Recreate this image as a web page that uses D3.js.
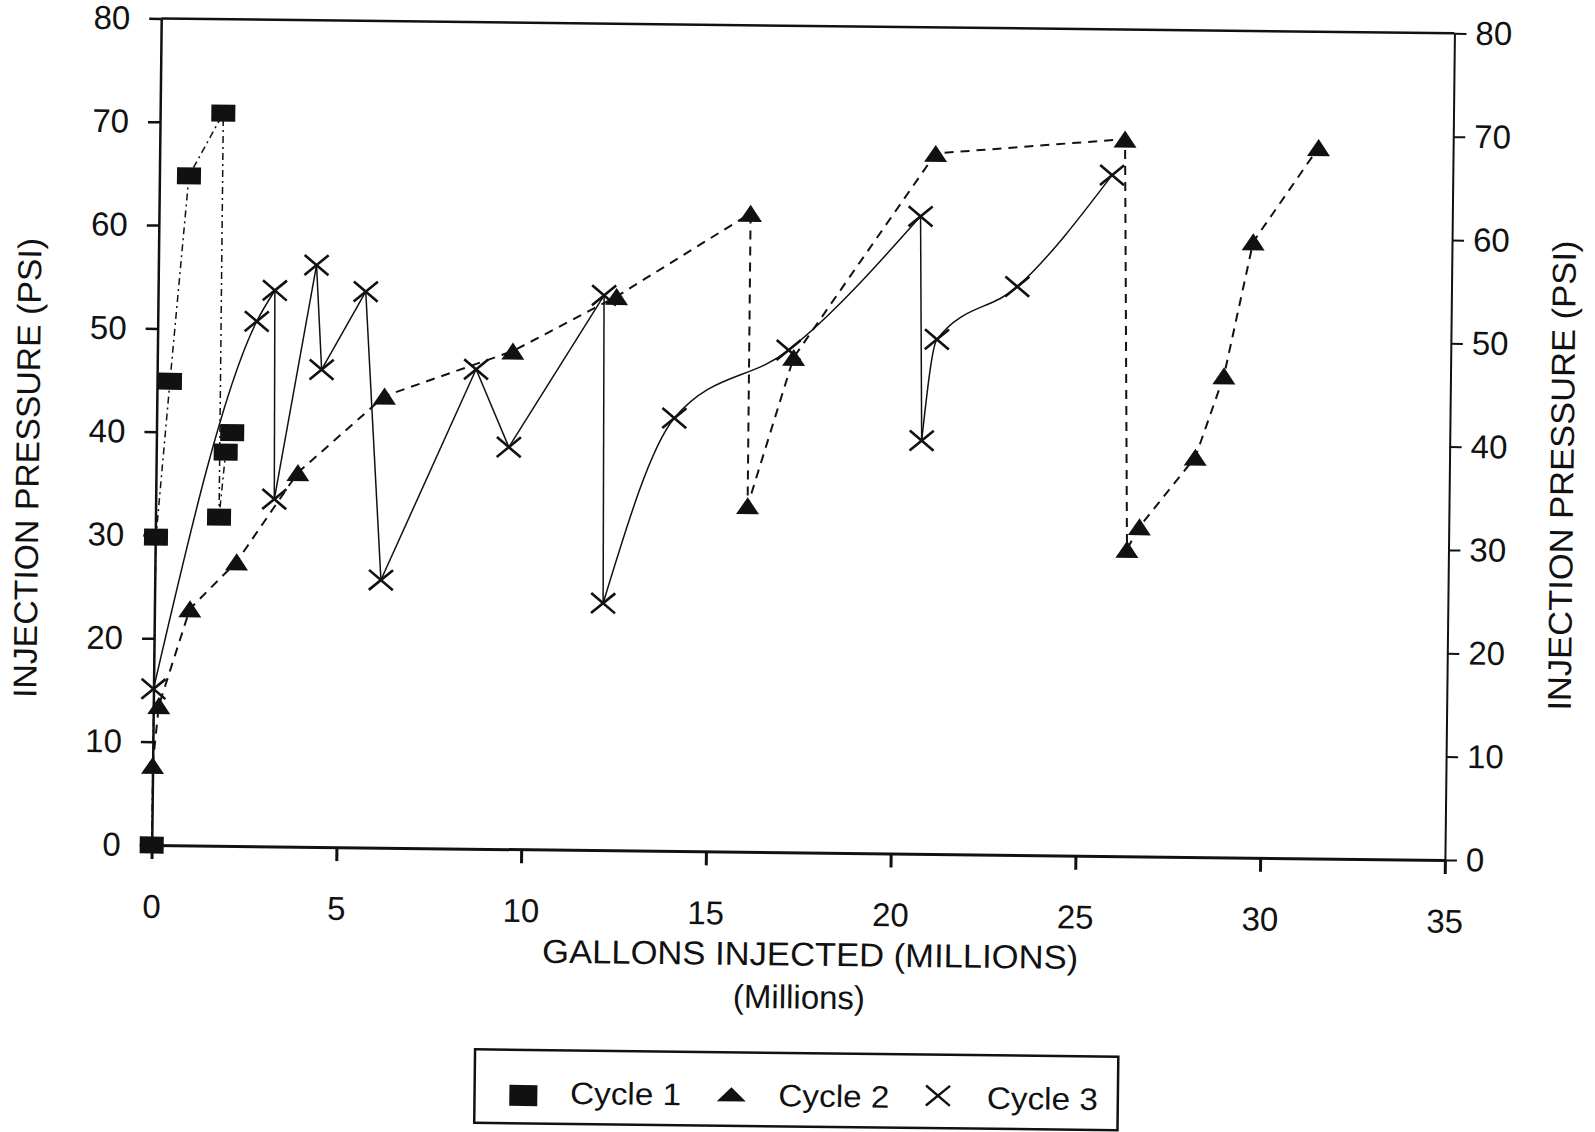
<!DOCTYPE html>
<meta charset="utf-8">

<!--load d3.js-->
<script src="https://d3js.org/d3.v7.min.js"></script>

<style>
    body { margin: 0; background: #fff; }
    text { font-family: "Liberation Sans", Arial, Helvetica, sans-serif; fill: #111; }
</style>

<div id="chart"></div>

<script>
    // values (gallons in millions, pressure in psi)
    const cycle1Gallons = [0, 0.02, 0.35, 0.8, 1.71, 1.72, 1.88, 2.05];
    const cycle1Psi = [0, 29.8, 44.9, 64.8, 70.9, 31.8, 38.1, 40.0];

    const cycle2Gallons = [0, 0.15, 0.96, 2.21, 3.84, 6.16, 9.62, 12.41, 16.01, 16.02, 17.22, 21.0, 26.12, 26.3, 26.63, 28.12, 28.87, 29.62, 31.36];
    const cycle2Psi = [7.7, 13.5, 22.9, 27.5, 36.2, 43.7, 48.2, 53.6, 61.8, 33.5, 47.9, 67.8, 69.4, 29.7, 31.9, 38.7, 46.6, 59.6, 68.8];

    const cycle3Gallons = [0, 2.68, 3.16, 3.21, 4.28, 4.45, 5.62, 6.12, 8.63, 9.54, 12.07, 12.14, 14.01, 17.08, 20.61, 20.71, 21.09, 23.25, 25.78];
    const cycle3Psi = [15.1, 50.8, 53.8, 33.6, 56.3, 46.2, 53.8, 25.9, 46.4, 38.9, 53.7, 23.9, 41.9, 48.6, 61.7, 40.0, 49.8, 55.0, 65.9];

    const xTicks = [0, 5, 10, 15, 20, 25, 30, 35];
    const yTicks = [0, 10, 20, 30, 40, 50, 60, 70, 80];
    const seriesNames = ["Cycle 1", "Cycle 2", "Cycle 3"];

    // the page was scanned slightly crooked
    const tilt = 0.66;

    const margin = { top: 18.4, left: 151.7 },
        width = 1293.3,
        height = 826.6;

    const svg = d3.select("#chart")
        .append("svg")
        .attr("width", 1595)
        .attr("height", 1132);

    const g = svg.append("g")
        .attr("transform", `rotate(${tilt}, ${margin.left}, ${margin.top + height})`)
        .append("g")
        .attr("transform", `translate(${margin.left}, ${margin.top})`);

    // scales
    const x = d3.scaleLinear().domain([0, 35]).range([0, width]);
    const y = d3.scaleLinear().domain([0, 80]).range([height, 0]);

    const font = '"Liberation Sans", Arial, Helvetica, sans-serif';

    function styleAxis(sel, sw) {
        sel.attr("font-size", 33).attr("font-family", font);
        sel.select(".domain").attr("stroke", "#111").attr("stroke-width", sw);
        sel.selectAll(".tick line").attr("stroke", "#111").attr("stroke-width", sw);
        sel.selectAll(".tick text").attr("fill", "#111");
    }

    // left axis
    g.append("g")
        .call(d3.axisLeft(y).tickValues(yTicks).tickSize(12).tickSizeOuter(0).tickPadding(19))
        .call(s => styleAxis(s, 2.5));

    // right axis
    g.append("g")
        .attr("transform", `translate(${width}, 0)`)
        .call(d3.axisRight(y).tickValues(yTicks).tickSize(12).tickSizeOuter(0).tickPadding(9))
        .call(s => styleAxis(s, 2));

    // bottom axis
    g.append("g")
        .attr("transform", `translate(0, ${height})`)
        .call(d3.axisBottom(x).tickValues(xTicks).tickSize(14).tickSizeOuter(0))
        .call(s => styleAxis(s, 3))
        .selectAll(".tick text")
        .attr("y", 72.8)
        .attr("dy", 0);

    // top border
    g.append("line")
        .attr("x1", 0).attr("x2", width)
        .attr("y1", 0).attr("y2", 0)
        .attr("stroke", "#111")
        .attr("stroke-width", 2.5);

    // axis titles
    g.append("text")
        .attr("transform", `translate(-117.2, ${451}) rotate(-90)`)
        .attr("text-anchor", "middle")
        .attr("font-size", 33)
        .attr("textLength", 460)
        .attr("lengthAdjust", "spacingAndGlyphs")
        .text("INJECTION PRESSURE (PSI)");

    g.append("text")
        .attr("transform", `translate(${width + 124}, ${441}) rotate(-90)`)
        .attr("text-anchor", "middle")
        .attr("font-size", 33)
        .attr("textLength", 470)
        .attr("lengthAdjust", "spacingAndGlyphs")
        .text("INJECTION PRESSURE (PSI)");

    g.append("text")
        .attr("x", 659.7)
        .attr("y", height + 113.2)
        .attr("text-anchor", "middle")
        .attr("font-size", 33)
        .attr("textLength", 536)
        .attr("lengthAdjust", "spacingAndGlyphs")
        .text("GALLONS INJECTED (MILLIONS)");

    g.append("text")
        .attr("x", 649)
        .attr("y", height + 156)
        .attr("text-anchor", "middle")
        .attr("font-size", 33)
        .text("(Millions)");

    // marker shapes
    const squarePath = "M-12,-8.5H12V8.5H-12Z";
    const trianglePath = "M0,-8.5L11.5,8.5L-11.5,8.5Z";
    const crossPath = "M-12,-10L12,10M-12,10L12,-10";

    const series = [
        { gx: cycle1Gallons, py: cycle1Psi, dash: "7,4,2,4", sw: 1.5, marker: squarePath, fill: "#111", curve: d3.curveLinear },
        { gx: cycle2Gallons, py: cycle2Psi, dash: "9,7", sw: 2, marker: trianglePath, fill: "#111", curve: d3.curveLinear },
        { gx: cycle3Gallons, py: cycle3Psi, dash: null, sw: 1.5, marker: crossPath, fill: "none", curve: d3.curveMonotoneX }
    ];

    const straight = d3.line()
        .x(d => x(d[0]))
        .y(d => y(d[1]));

    // cycle 3 is smoothed while pressure builds and straight where it drops
    function splitRuns(pts) {
        const runs = [], drops = [];
        let cur = [pts[0]];
        for (let i = 1; i < pts.length; i++) {
            if (pts[i][1] < pts[i - 1][1]) {
                runs.push(cur);
                drops.push([pts[i - 1], pts[i]]);
                cur = [pts[i]];
            } else {
                cur.push(pts[i]);
            }
        }
        runs.push(cur);
        return { runs, drops };
    }

    series.forEach(function(s) {
        const pts = d3.zip(s.gx, s.py);

        const lines = g.append("g")
            .attr("fill", "none")
            .attr("stroke", "#111")
            .attr("stroke-width", s.sw)
            .attr("stroke-dasharray", s.dash);

        if (s.curve === d3.curveLinear) {
            lines.append("path").datum(pts).attr("d", straight);
        } else {
            const parts = splitRuns(pts);
            const smooth = d3.line().x(d => x(d[0])).y(d => y(d[1])).curve(s.curve);

            lines.selectAll("path.run")
                .data(parts.runs.filter(r => r.length > 1))
                .join("path")
                .attr("class", "run")
                .attr("d", smooth);

            lines.selectAll("path.drop")
                .data(parts.drops)
                .join("path")
                .attr("class", "drop")
                .attr("d", straight);
        }

        g.append("g")
            .selectAll("path")
            .data(pts)
            .join("path")
            .attr("transform", d => `translate(${x(d[0])}, ${y(d[1])})`)
            .attr("d", s.marker)
            .attr("fill", s.fill)
            .attr("stroke", "#111")
            .attr("stroke-width", s.fill === "none" ? 2.6 : 0);
    });

    // legend
    const legend = g.append("g")
        .attr("transform", `translate(325.7, ${height + 200.6})`);

    legend.append("rect")
        .attr("width", 643.3)
        .attr("height", 73.5)
        .attr("fill", "none")
        .attr("stroke", "#111")
        .attr("stroke-width", 2.5);

    const legendMarkers = [
        "M-14,-10.5H14V10.5H-14Z",
        "M0,-7L14.5,7L-14.5,7Z",
        "M-12,-10L12,10M-12,10L12,-10"
    ];
    const markerX = [48.8, 256.8, 463.4],
        markerY = [45.6, 42, 41],
        textX = [95.6, 303.9, 512.3];

    seriesNames.forEach(function(name, i) {
        legend.append("path")
            .attr("transform", `translate(${markerX[i]}, ${markerY[i]})`)
            .attr("d", legendMarkers[i])
            .attr("fill", i < 2 ? "#111" : "none")
            .attr("stroke", "#111")
            .attr("stroke-width", i < 2 ? 0 : 2.4);

        legend.append("text")
            .attr("x", textX[i])
            .attr("y", 53.5)
            .attr("font-size", 31)
            .attr("textLength", 111)
            .attr("lengthAdjust", "spacingAndGlyphs")
            .text(name);
    });
</script>
